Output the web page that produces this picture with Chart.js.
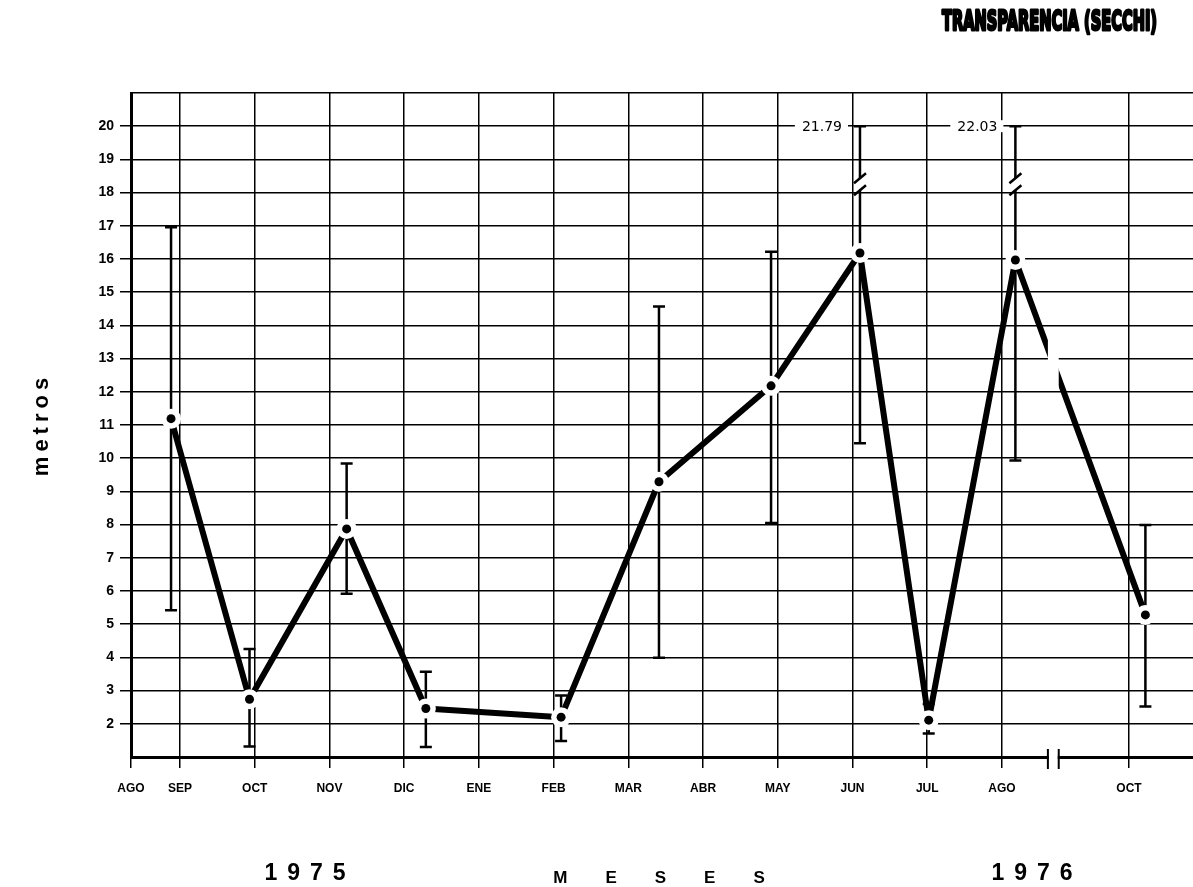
<!DOCTYPE html>
<html>
<head>
<meta charset="utf-8">
<script src="https://cdn.jsdelivr.net/npm/chart.js@4/dist/chart.umd.min.js"></script>
<style>
  html, body { margin: 0; padding: 0; background: #fff; }
  canvas { display: block; }
</style>
</head>
<body>
<canvas id="grafico" width="1193" height="887"></canvas>
<script>
// Meses del eje X: posición en meses (SEP 1975 = 1); el tramo de SEP 1976 va interrumpido
const mesesEtiquetas = ['AGO', 'SEP', 'OCT', 'NOV', 'DIC', 'ENE', 'FEB', 'MAR', 'ABR', 'MAY', 'JUN', 'JUL', 'AGO', 'OCT'];
const mesesPosicion = [0.344, 1, 2, 3, 4, 5, 6, 7, 8, 9, 10, 11, 12, 13.7];

// Fecha de cada muestreo, en la misma escala de meses
const muestreoMes = [0.88, 1.93, 3.23, 4.29, 6.10, 7.41, 8.91, 10.10, 11.02, 12.18, 13.92];

// Transparencia (disco de Secchi) en metros: valor medio y extremos
const transparencia = [11.19, 2.74, 7.87, 2.46, 2.20, 9.29, 12.18, 16.18, 2.11, 15.97, 5.28];
const minimo = [5.42, 1.32, 5.92, 1.30, 1.48, 3.99, 8.05, 10.45, 1.71, 9.93, 2.52];
const maximo = [16.96, 4.25, 9.84, 3.57, 2.85, 14.57, 16.22, 21.79, 2.60, 22.03, 7.99];

// Interrupción del eje de meses y tope del eje vertical
const corteEje = [12.615, 12.76];
const techo = 20;

const puntos = muestreoMes.map((m, i) => ({ x: m, y: transparencia[i] }));

const NEGRO = '#000';

// Barras de rango, cortes y rótulos
const trazos = {
  id: 'trazos',
  beforeDatasetsDraw(chart) {
    const { ctx, scales: { x, y } } = chart;
    ctx.save();
    ctx.strokeStyle = NEGRO;
    ctx.lineWidth = 2.5;
    ctx.lineCap = 'butt';
    muestreoMes.forEach((m, i) => {
      const px = x.getPixelForValue(m);
      const yl = y.getPixelForValue(minimo[i]);
      const yh = y.getPixelForValue(Math.min(maximo[i], techo));
      ctx.beginPath();
      ctx.moveTo(px, yl); ctx.lineTo(px, yh);
      ctx.moveTo(px - 6, yl); ctx.lineTo(px + 6, yl);
      ctx.moveTo(px - 6, yh); ctx.lineTo(px + 6, yh);
      ctx.stroke();
    });
    ctx.restore();
  },
  afterDatasetsDraw(chart) {
    // corte de la línea en la interrupción del eje
    const { ctx, scales: { x } } = chart;
    const meta = chart.getDatasetMeta(0);
    const a = meta.data[9], b = meta.data[10];
    const x1 = x.getPixelForValue(corteEje[0]);
    const x2 = x.getPixelForValue(corteEje[1]);
    const yAt = px => a.y + (b.y - a.y) * (px - a.x) / (b.x - a.x);
    const top = Math.min(yAt(x1), yAt(x2)) - 12;
    const bot = Math.max(yAt(x1), yAt(x2)) + 12;
    ctx.save();
    ctx.fillStyle = '#fff';
    ctx.fillRect(x1, top, x2 - x1, bot - top);
    ctx.restore();
  },
  afterDraw(chart) {
    const { ctx, scales: { x, y }, chartArea } = chart;
    ctx.save();

    // interrupción del eje de meses
    const x1 = x.getPixelForValue(corteEje[0]);
    const x2 = x.getPixelForValue(corteEje[1]);
    const yb = chartArea.bottom;
    ctx.fillStyle = '#fff';
    ctx.fillRect(x1 + 1, yb - 3, x2 - x1 - 2, 6);
    ctx.strokeStyle = NEGRO;
    ctx.lineWidth = 2;
    ctx.beginPath();
    ctx.moveTo(x1, yb - 8); ctx.lineTo(x1, yb + 12);
    ctx.moveTo(x2, yb - 8); ctx.lineTo(x2, yb + 12);
    ctx.stroke();

    // máximos fuera de escala: corte de la barra y valor
    muestreoMes.forEach((m, i) => {
      if (maximo[i] <= techo) return;
      const px = x.getPixelForValue(m);
      const yc = y.getPixelForValue(18.25);
      ctx.fillStyle = '#fff';
      ctx.fillRect(px - 3, yc - 6, 6, 12);
      ctx.strokeStyle = NEGRO;
      ctx.lineWidth = 2.5;
      ctx.beginPath();
      ctx.moveTo(px - 6, yc - 1); ctx.lineTo(px + 6, yc - 11);
      ctx.moveTo(px - 6, yc + 11); ctx.lineTo(px + 6, yc + 1);
      ctx.stroke();

      const yt = y.getPixelForValue(techo);
      const texto = maximo[i].toFixed(2);
      ctx.font = '14px "DejaVu Sans"';
      const w = ctx.measureText(texto).width;
      const xr = px - 18;
      ctx.fillStyle = '#fff';
      ctx.fillRect(xr - w - 7, yt - 6, w + 13, 12);
      ctx.fillStyle = NEGRO;
      ctx.textAlign = 'right';
      ctx.textBaseline = 'middle';
      ctx.fillText(texto, xr, yt + 1);
    });

    // textos exteriores
    ctx.fillStyle = NEGRO;
    ctx.textBaseline = 'middle';

    ctx.save();
    ctx.translate(42, 427);
    ctx.rotate(-Math.PI / 2);
    ctx.font = 'bold 22px "Liberation Sans"';
    ctx.letterSpacing = '5px';
    ctx.textAlign = 'center';
    ctx.fillText('metros', 2.5, 0);
    ctx.restore();

    ctx.font = 'bold 23px "Liberation Sans"';
    ctx.letterSpacing = '10px';
    ctx.textAlign = 'center';
    ctx.fillText('1975', 305 + 5, 874);
    ctx.fillText('1976', 1032 + 5, 874);

    ctx.font = 'bold 17px "Liberation Sans"';
    ctx.letterSpacing = '38px';
    ctx.fillText('MESES', 659 + 19, 878);

    // título
    ctx.letterSpacing = '0px';
    ctx.font = 'bold 26px "DejaVu Sans"';
    const titulo = 'TRANSPARENCIA (SECCHI)';
    const tw = ctx.measureText(titulo).width;
    ctx.translate(1157, 23);
    ctx.scale(215 / tw, 1);
    ctx.textAlign = 'right';
    ctx.lineWidth = 3;
    ctx.lineJoin = 'round';
    ctx.strokeStyle = NEGRO;
    ctx.filter = 'blur(0.7px)';
    ctx.strokeText(titulo, 0, 0);
    ctx.fillText(titulo, 0, 0);
    ctx.restore();
  }
};

new Chart(document.getElementById('grafico'), {
  type: 'line',
  data: {
    datasets: [
      {
        label: 'Transparencia',
        data: puntos,
        borderColor: NEGRO,
        borderWidth: 6,
        tension: 0,
        pointRadius: 0,
        borderJoinStyle: 'round',
        borderCapStyle: 'round',
        order: 3
      },
      {
        label: 'halo',
        data: puntos,
        showLine: false,
        pointRadius: 10,
        pointBackgroundColor: '#fff',
        pointBorderWidth: 0,
        order: 2
      },
      {
        label: 'media',
        data: puntos,
        showLine: false,
        pointRadius: 4.5,
        pointBackgroundColor: NEGRO,
        pointBorderWidth: 0,
        order: 1
      }
    ]
  },
  options: {
    responsive: false,
    animation: false,
    devicePixelRatio: 1,
    events: [],
    layout: { autoPadding: false, padding: { top: 93, left: 0, right: 0, bottom: 0 } },
    plugins: { legend: { display: false }, tooltip: { enabled: false } },
    scales: {
      x: {
        type: 'linear',
        min: 0.344,
        max: 14.557,
        z: 1,
        afterBuildTicks: s => { s.ticks = mesesPosicion.map(v => ({ value: v })); },
        afterFit: s => { s.height = 130; },
        border: { color: NEGRO, width: 3 },
        grid: { color: NEGRO, lineWidth: 1.5, tickLength: 11, tickColor: NEGRO, tickWidth: 1.5 },
        ticks: {
          autoSkip: false,
          maxRotation: 0,
          padding: 13,
          color: NEGRO,
          font: { family: '"Liberation Sans"', weight: 'bold', size: 12 },
          callback: (v, i) => mesesEtiquetas[i]
        }
      },
      y: {
        min: 1,
        max: 21,
        z: 1,
        afterFit: s => { s.width = 131; },
        border: { color: NEGRO, width: 3 },
        grid: {
          color: NEGRO,
          lineWidth: 1.5,
          tickLength: 11,
          tickWidth: 1.5,
          tickColor: c => (c.tick && (c.tick.value === 21 || c.tick.value === 1)) ? 'rgba(0,0,0,0)' : NEGRO
        },
        ticks: {
          stepSize: 1,
          padding: 6,
          color: NEGRO,
          font: { family: '"Liberation Sans"', weight: 'bold', size: 14 },
          callback: v => (v >= 2 && v <= techo) ? String(v) : ''
        }
      }
    }
  },
  plugins: [trazos]
});
</script>
</body>
</html>
